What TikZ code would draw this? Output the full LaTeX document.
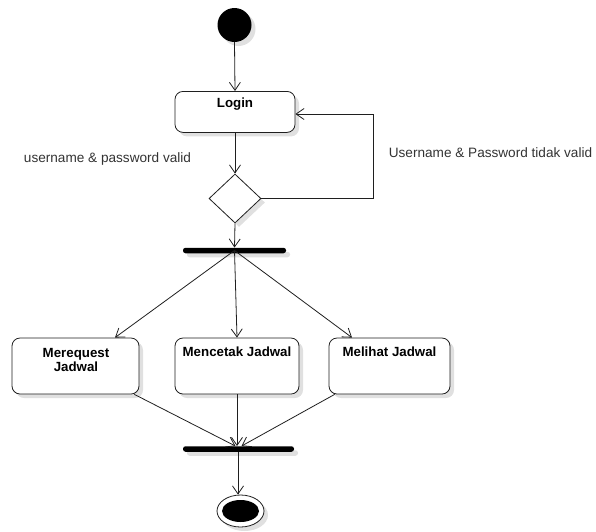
\documentclass[tikz,border=0pt]{standalone}
\usepackage{fontspec}
\setmainfont{Liberation Sans}
\usetikzlibrary{arrows.meta,shapes.geometric,shadows}

\tikzset{
  ink/.style={draw=black!88, line width=0.8pt},
  soft shadow/.style={drop shadow={shadow xshift=4pt, shadow yshift=-4pt, opacity=0.12, fill=black}},
  action/.style={ink, rounded corners=8pt, fill=white, soft shadow,
    inner sep=0pt, align=center, font=\fontsize{13.3}{13}\selectfont\bfseries},
  bar/.style={fill=black, rounded corners=2.5pt, inner sep=0pt, minimum height=5.5pt, soft shadow},
  choice/.style={ink, diamond, fill=white, soft shadow, inner sep=0pt, shape aspect=1,
    minimum width=52pt, minimum height=49pt},
  flow/.style={ink, -{Straight Barb[length=8pt,width=11pt,line width=0.8pt]}},
  guard/.style={font=\fontsize{13.6}{14}\selectfont, text=black!80, inner sep=0pt}
}

\begin{document}
\begin{tikzpicture}[x=1pt, y=-1pt]
  \useasboundingbox (0,0) rectangle (596,531);

  % initial and final states
  \node[circle, fill=black, minimum size=34pt, inner sep=0pt, soft shadow] (start) at (234.5,25) {};
  \node[ink, ellipse, fill=white, minimum width=47pt, minimum height=32pt, inner sep=0pt, soft shadow] (final) at (240.5,511) {};
  \node[ellipse, fill=black, minimum width=37pt, minimum height=22pt, inner sep=0pt] (finalcore) at (final.center) {};

  % login step and its check
  \node[action, minimum width=120pt, minimum height=41pt, anchor=north] (login) at (235,91) {};
  \node[font=\fontsize{13.3}{13}\selectfont\bfseries] (logintxt) at (235,104) {Login};
  \node[choice] (dec) at (235,198.5) {};

  % fork and join bars
  \node[bar, minimum width=103pt] (fork) at (234.5,250.5) {};
  \node[bar, minimum width=111pt] (join) at (238.5,449) {};

  % the three parallel actions
  \node[action, minimum width=127pt, minimum height=56pt] (req) at (75.5,366) {};
  \node[action, minimum width=124pt, minimum height=56pt] (cetak) at (237,366) {};
  \node[action, minimum width=121pt, minimum height=56pt] (lihat) at (389.5,366) {};
  \node[font=\fontsize{13.3}{12}\selectfont\bfseries, align=center, anchor=north] (reqtxt) at (76,345) {Merequest\\Jadwal};
  \node[font=\fontsize{13.3}{13}\selectfont\bfseries] (cetaktxt) at (237,352) {Mencetak Jadwal};
  \node[font=\fontsize{13.3}{13}\selectfont\bfseries] (lihattxt) at (389.5,352) {Melihat Jadwal};

  % guard labels
  \node[guard] (okguard) at (107.5,159) {username \& password valid};
  \node[guard] (failguard) at (490.5,153) {Username \& Password tidak valid};

  % control flow
  \draw[flow] (start.south) -- (login.north);
  \draw[flow] (login.south) -- (dec.north);
  \coordinate (loopc) at (373,114);
  \draw[flow] (dec.east) -| (loopc) -- (loopc -| login.east);
  \draw[flow] (dec.south) -- (fork.north);

  \draw[flow] (fork.center) -- ([xshift=39.5pt]req.north);
  \draw[flow] (fork.center) -- (cetak.north);
  \draw[flow] (fork.center) -- ([xshift=-37.5pt]lihat.north);

  \draw[flow] ([xshift=-5pt]req.south east) -- ([xshift=-3pt]join.north);
  \draw[flow] (cetak.south) -- (join.north -| cetak.south);
  \draw[flow] ([xshift=6pt]lihat.south west) -- ([xshift=3pt]join.north);

  \coordinate (endx) at (238,0);
  \draw[flow] (join.south -| endx) -- (final.north -| endx);
\end{tikzpicture}
\end{document}
